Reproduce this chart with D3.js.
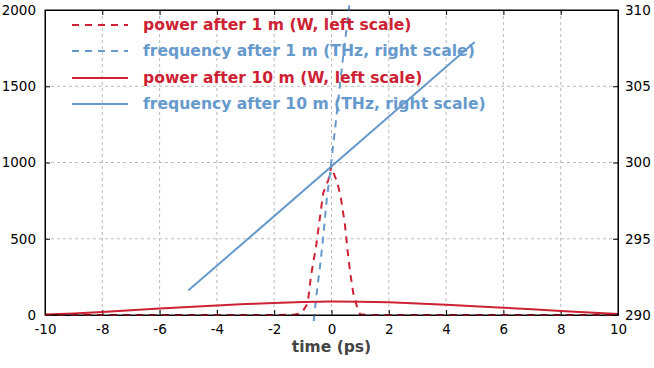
<!DOCTYPE html>
<html><head><meta charset="utf-8">
<script src="https://cdn.jsdelivr.net/npm/d3@7"></script>
<style>body{margin:0;background:#fff}svg{display:block}</style>
</head><body>
<svg id="c" width="654" height="368"></svg>
<script>
const xTicks = [-10,-8,-6,-4,-2,0,2,4,6,8,10];
const yLeftTicks = [0,500,1000,1500,2000];
const yRightTicks = [290,295,300,305,310];

const p1Time = [-10,-8,-6,-4,-2,-1.3,-1.04,-0.83,-0.72,-0.64,-0.54,-0.40,-0.29,-0.11,0.0,0.06,0.21,0.33,0.47,0.56,0.64,0.76,0.92,1.0,1.3,2,4,6,8,10];
const p1Power = [0,0,0,0,0,2,13,77,251,341,448,645,800,885,980,940,864,765,590,426,295,142,33,5,0,0,0,0,0,0];

const f1Time = [-0.62,-0.52,-0.40,-0.29,-0.17,-0.05,0.05,0.16,0.26,0.36,0.46,0.55,0.62];
const f1Freq = [289.6,291.4,293.2,295.1,297.5,299.3,301.0,302.8,304.5,306.2,307.8,309.1,310.3];

const p10Time = [-10,-9,-8,-7,-6,-5,-4,-3,-2,-1,0,1,2,3,4,5,6,7,8,9,10];
const p10Power = [4,10,20,31,42,53,63,72,79,85,88,87,83,76,67,58,48,38,27,16,7];

const f10Time = [-5,5];
const f10Freq = [291.6,307.9];

const legendLabels = ["power after 1 m (W, left scale)","frequency after 1 m (THz, right scale)","power after 10 m (W, left scale)","frequency after 10 m (THz, right scale)"];

const RED = "#cc2233", BLUE = "#6699cc";
const svg = d3.select("#c");
const L=45,R=618,T=10,B=315;
const x = d3.scaleLinear().domain([-10,10]).range([L,R]);
const yL = d3.scaleLinear().domain([0,2000]).range([B,T]);
const yR = d3.scaleLinear().domain([290,310]).range([B,T]);
const font = "DejaVu Sans, Verdana, sans-serif";
const fmt = d => String(d);

// grid
const g = svg.append("g");
xTicks.slice(1,-1).forEach(t=>g.append("line").attr("x1",x(t)).attr("x2",x(t)).attr("y1",T).attr("y2",B)
  .attr("stroke","#bbb").attr("stroke-dasharray","3,3"));
yLeftTicks.slice(1,-1).forEach(t=>g.append("line").attr("x1",L).attr("x2",R).attr("y1",yL(t)).attr("y2",yL(t))
  .attr("stroke","#bbb").attr("stroke-dasharray","3,3"));

// axes
const axB = d3.axisBottom(x).tickValues(xTicks).tickFormat(fmt).tickSizeInner(-5).tickSizeOuter(0).tickPadding(9);
const axT = d3.axisTop(x).tickValues(xTicks).tickSizeInner(-5).tickSizeOuter(0).tickFormat("");
const axLft = d3.axisLeft(yL).tickValues(yLeftTicks).tickFormat(fmt).tickSizeInner(-5).tickSizeOuter(0).tickPadding(9);
const axRgt = d3.axisRight(yR).tickValues(yRightTicks).tickFormat(fmt).tickSizeInner(-5).tickSizeOuter(0).tickPadding(7);
function style(sel){
  sel.selectAll("path").attr("stroke","#000");
  sel.selectAll("line").attr("stroke","#000");
  sel.selectAll("text").attr("font-family",font).attr("font-size","13.5px").attr("fill","#000");
}
style(svg.append("g").attr("transform",`translate(0,${B})`).call(axB));
style(svg.append("g").attr("transform",`translate(0,${T})`).call(axT));
style(svg.append("g").attr("transform",`translate(${L},0)`).call(axLft));
style(svg.append("g").attr("transform",`translate(${R},0)`).call(axRgt));

// series
const dataOf=(ts,vs)=>ts.map((t,i)=>[t,vs[i]]);
const lineL = d3.line().x(d=>x(d[0])).y(d=>yL(d[1]));
const lineR = d3.line().x(d=>x(d[0])).y(d=>yR(d[1]));
const series = [
  {d:dataOf(p1Time,p1Power), f:lineL, c:RED, dash:"7,6"},
  {d:dataOf(f1Time,f1Freq), f:lineR, c:BLUE, dash:"7,6"},
  {d:dataOf(p10Time,p10Power), f:lineL, c:RED, dash:null},
  {d:dataOf(f10Time,f10Freq), f:lineR, c:BLUE, dash:null}
];
series.forEach(s=>{
  svg.append("path").attr("d",s.f(s.d)).attr("fill","none").attr("stroke",s.c).attr("stroke-width",2)
    .attr("stroke-dasharray",s.dash);
});

// legend
const legY=[25,51,78,104];
series.forEach((s,i)=>{
  svg.append("line").attr("x1",72).attr("x2",128).attr("y1",legY[i]).attr("y2",legY[i])
    .attr("stroke",s.c).attr("stroke-width",2).attr("stroke-dasharray",s.dash);
  svg.append("text").attr("x",143).attr("y",legY[i]).attr("dy","0.35em").attr("fill",s.c)
    .attr("font-family",font).attr("font-weight","bold").attr("font-size","15.6px").text(legendLabels[i]);
});

// frame
svg.append("rect").attr("x",L).attr("y",T).attr("width",R-L).attr("height",B-T).attr("fill","none").attr("stroke","#000");

svg.append("text").attr("x",(L+R)/2).attr("y",352).attr("text-anchor","middle").attr("font-family",font)
  .attr("font-weight","bold").attr("font-size","15.5px").attr("fill","#444").text("time (ps)");
</script>
</body></html>
